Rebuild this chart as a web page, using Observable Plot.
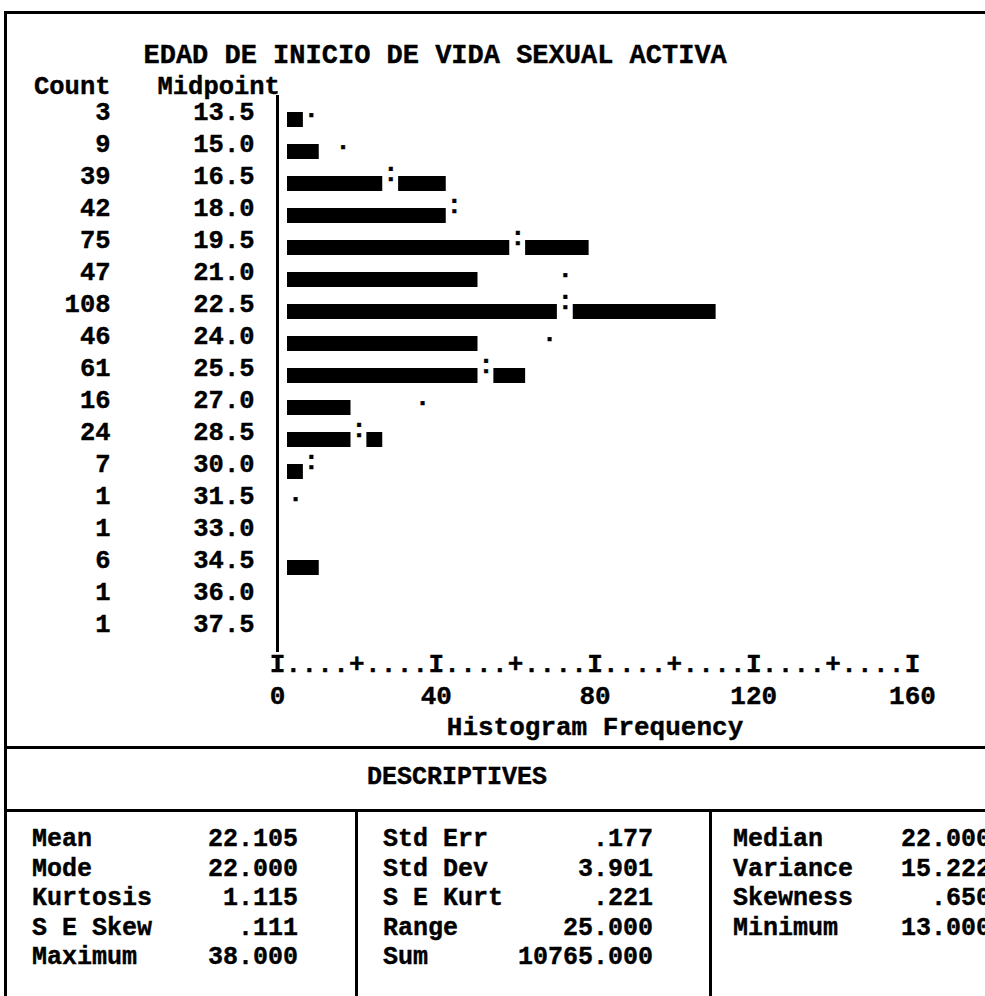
<!DOCTYPE html>
<html>
<head>
<meta charset="utf-8">
<script src="https://cdn.jsdelivr.net/npm/d3@7"></script>
<script src="https://cdn.jsdelivr.net/npm/@observablehq/plot@0.6"></script>
<style>
  html, body { margin: 0; padding: 0; background: #fff; }
  #page { position: relative; width: 985px; height: 996px; overflow: hidden; background: #fff;
          font-family: "Liberation Mono", "DejaVu Sans Mono", monospace; font-weight: bold; color: #000;
          -webkit-text-stroke: 0.4px #000; }
  .hline { position: absolute; left: 4px; width: 1000px; height: 3px; background: #000; }
  .vline { position: absolute; width: 3px; background: #000; }
  #chart { position: absolute; left: 0; top: 0; }
  .desc-title { position: absolute; left: 367px; top: 762px; font-size: 25px; line-height: 32px; white-space: pre; }
  .col { position: absolute; top: 825px; font-size: 25px; }
  .row { display: flex; justify-content: space-between; height: 29.5px; line-height: 29.5px; white-space: pre; }
</style>
</head>
<body>
<div id="page">
  <div id="chart"></div>
  <div class="hline" style="top:11px;"></div>
  <div class="vline" style="left:4px; top:11px; height:990px;"></div>
  <div class="hline" style="top:746px;"></div>
  <div class="hline" style="top:809px;"></div>
  <div class="vline" style="left:355px; top:810px; height:190px;"></div>
  <div class="vline" style="left:709px; top:810px; height:190px;"></div>
  <div class="desc-title" id="descTitle"></div>
  <div class="col" id="col1" style="left:32px; width:266px;"></div>
  <div class="col" id="col2" style="left:383px; width:270px;"></div>
  <div class="col" id="col3" style="left:733px; width:258px;"></div>
</div>
<script>
// ---- data ----
const chartTitle = "EDAD DE INICIO DE VIDA SEXUAL ACTIVA";
const midpoints = ["13.5","15.0","16.5","18.0","19.5","21.0","22.5","24.0","25.5","27.0","28.5","30.0","31.5","33.0","34.5","36.0","37.5"];
const counts = [3, 9, 39, 42, 75, 47, 108, 46, 61, 16, 24, 7, 1, 1, 6, 1, 1];
// expected normal-curve frequency marks, as printed
const normalCurve = [6, 14, 26, 42, 58, 70, 70, 66, 50, 34, 18, 6, 2, null, null, null, null];
const normalGlyph = [".", ".", ":", ":", ":", ".", ":", ".", ":", ".", ":", ":", ".", "", "", "", ""];
const xTicks = [0, 40, 80, 120, 160];
const xLabel = "Histogram Frequency";
const descTitle = "DESCRIPTIVES";
const descCol1Labels = ["Mean", "Mode", "Kurtosis", "S E Skew", "Maximum"];
const descCol1Values = ["22.105", "22.000", "1.115", ".111", "38.000"];
const descCol2Labels = ["Std Err", "Std Dev", "S E Kurt", "Range", "Sum"];
const descCol2Values = [".177", "3.901", ".221", "25.000", "10765.000"];
const descCol3Labels = ["Median", "Variance", "Skewness", "Minimum"];
const descCol3Values = ["22.000", "15.222", ".650", "13.000"];

// ---- build tables ----
const rows = midpoints.map((m, i) => ({mid: m, count: counts[i], normal: normalCurve[i], glyph: normalGlyph[i]}));
const unit = 4; // one printer character = 4 cases
const segments = [];
rows.forEach(r => {
  const L = Math.round(r.count / unit) * unit;
  if (r.normal == null) {
    if (L > 0) segments.push({mid: r.mid, x1: 0, x2: L});
  } else {
    const e1 = Math.min(L, r.normal - unit / 2);
    if (e1 > 0) segments.push({mid: r.mid, x1: 0, x2: e1});
    if (L > r.normal + unit / 2) segments.push({mid: r.mid, x1: r.normal + unit / 2, x2: L});
  }
});
const glyphTicks = d3.range(xTicks[0], xTicks[xTicks.length - 1] + 1, unit);

const font = {fontFamily: "Liberation Mono", fontWeight: "bold", fill: "black", stroke: "black", strokeWidth: 0.4};

const chart = Plot.plot({
  width: 985,
  height: 747,
  margin: 0,
  style: {background: "transparent", overflow: "visible"},
  x: {domain: [0, 160], range: [277, 912], axis: null},
  y: {type: "band", domain: midpoints, range: [100.85, 649.95], paddingInner: 0.535, paddingOuter: 0.2675, axis: null},
  marks: [
    Plot.text([chartTitle], {...font, text: d => d, frameAnchor: "top-left", dx: 143, dy: 43, textAnchor: "start", fontSize: 27}),
    Plot.text(["Count"], {...font, text: d => d, frameAnchor: "top-left", dx: 110, dy: 75, textAnchor: "end", fontSize: 25.5}),
    Plot.text(["Midpoint"], {...font, text: d => d, frameAnchor: "top-left", dx: 157, dy: 75, textAnchor: "start", fontSize: 25.5}),
    Plot.text(rows, {...font, y: "mid", text: "count", frameAnchor: "left", dx: 110, dy: -8, textAnchor: "end", fontSize: 25.5}),
    Plot.text(rows, {...font, y: "mid", text: "mid", frameAnchor: "left", dx: 254, dy: -8, textAnchor: "end", fontSize: 25.5}),
    Plot.ruleX([0], {stroke: "black", strokeWidth: 3, insetTop: 95, insetBottom: 747 - 652}),
    Plot.barX(segments, {x1: "x1", x2: "x2", y: "mid", fill: "black", dx: 10}),
    Plot.text(rows.filter(r => r.normal != null), {...font, x: "normal", y: "mid", text: "glyph", dx: 10, dy: -11, fontSize: 26}),
    Plot.text(glyphTicks, {...font, x: d => d, text: d => d % 40 === 0 ? "I" : d % 20 === 0 ? "+" : ".", frameAnchor: "top", dy: 653, fontSize: 26}),
    Plot.text(xTicks, {...font, x: d => d, text: d => String(d), frameAnchor: "top", dy: 685, fontSize: 26}),
    Plot.text([xLabel], {...font, x: d3.mean([xTicks[0], xTicks[xTicks.length - 1]]), text: d => d, frameAnchor: "top", dy: 716, fontSize: 26})
  ]
});
document.getElementById("chart").appendChild(chart);

// ---- descriptives ----
document.getElementById("descTitle").textContent = descTitle;
function fillCol(id, labels, values) {
  const col = document.getElementById(id);
  labels.forEach((l, i) => {
    const row = document.createElement("div");
    row.className = "row";
    const a = document.createElement("span"); a.textContent = l;
    const b = document.createElement("span"); b.textContent = values[i];
    row.appendChild(a); row.appendChild(b);
    col.appendChild(row);
  });
}
fillCol("col1", descCol1Labels, descCol1Values);
fillCol("col2", descCol2Labels, descCol2Values);
fillCol("col3", descCol3Labels, descCol3Values);
</script>
</body>
</html>
